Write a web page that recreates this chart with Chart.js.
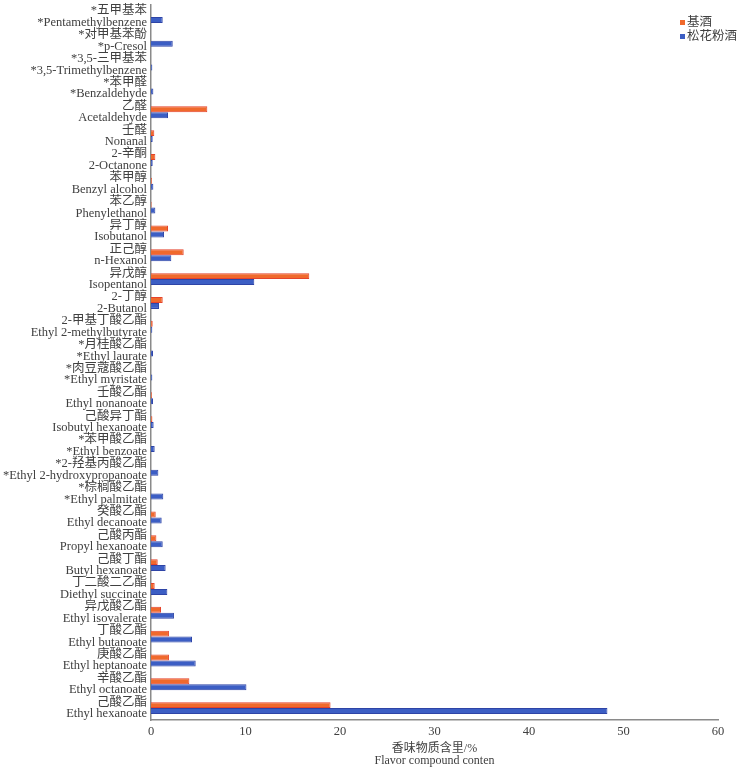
<!DOCTYPE html>
<html>
<head>
<meta charset="utf-8">
<script src="https://cdn.jsdelivr.net/npm/chart.js@4/dist/chart.umd.min.js"></script>
<style>
  html, body { margin: 0; padding: 0; background: #fff; }
  #wrap { position: relative; width: 739px; height: 769px; }
  #legend { position: absolute; left: 680px; top: 15px; font-family: 'Liberation Serif', 'Noto Sans CJK SC', serif; font-size: 12.5px; color: #404040; line-height: 14px; }
  #legend div { display: flex; align-items: center; white-space: nowrap; }
  #legend span.sw { display: inline-block; width: 5px; height: 5px; margin-right: 2px; }
</style>
</head>
<body>
<div id="wrap">
  <canvas id="c"></canvas>
  <div id="legend"></div>
</div>
<script>
const seriesNames = ['基酒', '松花粉酒'];
const labelsCN = ['*五甲基苯','*对甲基苯酚','*3,5-三甲基苯','*苯甲醛','乙醛','壬醛','2-辛酮','苯甲醇','苯乙醇','异丁醇','正己醇','异戊醇','2-丁醇','2-甲基丁酸乙酯','*月桂酸乙酯','*肉豆蔻酸乙酯','壬酸乙酯','己酸异丁酯','*苯甲酸乙酯','*2-羟基丙酸乙酯','*棕榈酸乙酯','癸酸乙酯','己酸丙酯','己酸丁酯','丁二酸二乙酯','异戊酸乙酯','丁酸乙酯','庚酸乙酯','辛酸乙酯','己酸乙酯'];
const labelsEN = ['*Pentamethylbenzene','*p-Cresol','*3,5-Trimethylbenzene','*Benzaldehyde','Acetaldehyde','Nonanal','2-Octanone','Benzyl alcohol','Phenylethanol','Isobutanol','n-Hexanol','Isopentanol','2-Butanol','Ethyl 2-methylbutyrate','*Ethyl laurate','*Ethyl myristate','Ethyl nonanoate','Isobutyl hexanoate','*Ethyl benzoate','*Ethyl 2-hydroxypropanoate','*Ethyl palmitate','Ethyl decanoate','Propyl hexanoate','Butyl hexanoate','Diethyl succinate','Ethyl isovalerate','Ethyl butanoate','Ethyl heptanoate','Ethyl octanoate','Ethyl hexanoate'];
const baseWine   = [0, 0, 0, 0, 5.96, 0.35, 0.46, 0.10, 0.07, 1.80, 3.46, 16.75, 1.24, 0.18, 0, 0, 0.10, 0.15, 0, 0, 0, 0.50, 0.57, 0.71, 0.39, 1.06, 1.90, 1.90, 4.06, 19.0];
const pollenWine = [1.24, 2.30, 0.14, 0.25, 1.80, 0.18, 0.18, 0.25, 0.46, 1.38, 2.15, 10.93, 0.85, 0.14, 0.21, 0.14, 0.21, 0.28, 0.39, 0.78, 1.30, 1.13, 1.24, 1.55, 1.73, 2.43, 4.34, 4.73, 10.10, 48.3];
const xTicks = [0, 10, 20, 30, 40, 50, 60];
const xTitle = ['香味物质含里/%', 'Flavor compound conten'];

const colors = [
  { fill: '#F0692C', border: '#E5432B' },
  { fill: '#3C5EC4', border: '#2E44A6' }
];
const labels = labelsCN.map((cn, i) => [cn, labelsEN[i]]);
const fontFam = "'Liberation Serif', 'Noto Sans CJK SC', serif";

const legendEl = document.getElementById('legend');
seriesNames.forEach((n, i) => {
  const d = document.createElement('div');
  d.innerHTML = '<span class="sw" style="background:' + colors[i].fill + '"></span>' + n;
  legendEl.appendChild(d);
});

new Chart(document.getElementById('c'), {
  type: 'bar',
  data: {
    labels: labels,
    datasets: [
      { label: seriesNames[0], data: baseWine, backgroundColor: colors[0].fill, borderColor: colors[0].border, borderWidth: 1, categoryPercentage: 0.5, barPercentage: 1.0 },
      { label: seriesNames[1], data: pollenWine, backgroundColor: colors[1].fill, borderColor: colors[1].border, borderWidth: 1, categoryPercentage: 0.5, barPercentage: 1.0 }
    ]
  },
  options: {
    indexAxis: 'y',
    responsive: true,
    maintainAspectRatio: false,
    animation: false,
    layout: { padding: { left: 0, right: 21, top: 5, bottom: 0 } },
    plugins: { legend: { display: false }, tooltip: { enabled: false } },
    scales: {
      x: {
        min: 0, max: 60,
        afterBuildTicks: (s) => { s.ticks = xTicks.map(v => ({ value: v })); },
        afterFit: (s) => { s.height = 49; s.paddingLeft = 0; s.paddingRight = 0; },
        grid: { display: false, drawTicks: false },
        border: { display: true, color: '#8a8a8a', width: 1.5 },
        ticks: { padding: 4, color: '#404040', font: { family: fontFam, size: 12.5 }, maxRotation: 0 },
        title: { display: true, text: xTitle, color: '#404040', font: { family: fontFam, size: 12, lineHeight: 1 }, padding: { top: 0, bottom: 2 } }
      },
      y: {
        afterFit: (s) => { s.width = 151; s.paddingTop = 0; s.paddingBottom = 0; },
        grid: { display: false, drawTicks: false },
        border: { display: true, color: '#8a8a8a', width: 1.5 },
        ticks: { padding: 4, color: '#404040', font: { family: fontFam, size: 12.5, lineHeight: 0.92 }, autoSkip: false }
      }
    }
  }
});
</script>
</body>
</html>
